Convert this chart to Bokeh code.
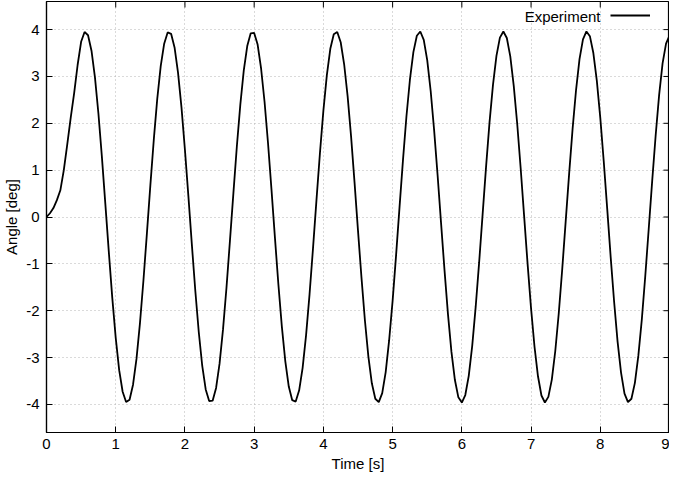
from bokeh.plotting import figure
from bokeh.models import (Range1d, FixedTicker, Legend, LegendItem,
                          Label, ColumnDataSource, PrintfTickFormatter)
from bokeh.embed import file_html
from bokeh.resources import INLINE

# ---- data ----
time_s = [
    0.00, 0.05, 0.10, 0.15, 0.20, 0.25, 0.30, 0.35, 0.40, 0.45,
    0.50, 0.55, 0.60, 0.65, 0.70, 0.75, 0.80, 0.85, 0.90, 0.95,
    1.00, 1.05, 1.10, 1.15, 1.20, 1.25, 1.30, 1.35, 1.40, 1.45,
    1.50, 1.55, 1.60, 1.65, 1.70, 1.75, 1.80, 1.85, 1.90, 1.95,
    2.00, 2.05, 2.10, 2.15, 2.20, 2.25, 2.30, 2.35, 2.40, 2.45,
    2.50, 2.55, 2.60, 2.65, 2.70, 2.75, 2.80, 2.85, 2.90, 2.95,
    3.00, 3.05, 3.10, 3.15, 3.20, 3.25, 3.30, 3.35, 3.40, 3.45,
    3.50, 3.55, 3.60, 3.65, 3.70, 3.75, 3.80, 3.85, 3.90, 3.95,
    4.00, 4.05, 4.10, 4.15, 4.20, 4.25, 4.30, 4.35, 4.40, 4.45,
    4.50, 4.55, 4.60, 4.65, 4.70, 4.75, 4.80, 4.85, 4.90, 4.95,
    5.00, 5.05, 5.10, 5.15, 5.20, 5.25, 5.30, 5.35, 5.40, 5.45,
    5.50, 5.55, 5.60, 5.65, 5.70, 5.75, 5.80, 5.85, 5.90, 5.95,
    6.00, 6.05, 6.10, 6.15, 6.20, 6.25, 6.30, 6.35, 6.40, 6.45,
    6.50, 6.55, 6.60, 6.65, 6.70, 6.75, 6.80, 6.85, 6.90, 6.95,
    7.00, 7.05, 7.10, 7.15, 7.20, 7.25, 7.30, 7.35, 7.40, 7.45,
    7.50, 7.55, 7.60, 7.65, 7.70, 7.75, 7.80, 7.85, 7.90, 7.95,
    8.00, 8.05, 8.10, 8.15, 8.20, 8.25, 8.30, 8.35, 8.40, 8.45,
    8.50, 8.55, 8.60, 8.65, 8.70, 8.75, 8.80, 8.85, 8.90, 8.95,
    9.00,
]

angle_deg = [
    0.00, 0.08, 0.19, 0.36, 0.57, 1.00, 1.55, 2.12, 2.65, 3.25,
    3.74, 3.95, 3.88, 3.55, 2.98, 2.21, 1.29, 0.28, -0.74, -1.72,
    -2.58, -3.27, -3.73, -3.95, -3.90, -3.58, -3.03, -2.27, -1.36, -0.36,
    0.67, 1.65, 2.52, 3.22, 3.70, 3.94, 3.91, 3.62, 3.08, 2.34,
    1.43, 0.44, -0.59, -1.58, -2.46, -3.18, -3.68, -3.93, -3.92, -3.65,
    -3.13, -2.40, -1.51, -0.51, 0.51, 1.51, 2.40, 3.13, 3.65, 3.92,
    3.93, 3.68, 3.17, 2.46, 1.58, 0.59, -0.44, -1.44, -2.34, -3.08,
    -3.62, -3.91, -3.94, -3.70, -3.22, -2.52, -1.65, -0.67, 0.36, 1.36,
    2.27, 3.03, 3.59, 3.90, 3.95, 3.73, 3.26, 2.58, 1.72, 0.74,
    -0.29, -1.29, -2.21, -2.98, -3.55, -3.88, -3.95, -3.76, -3.31, -2.63,
    -1.79, -0.82, 0.21, 1.22, 2.15, 2.93, 3.52, 3.87, 3.96, 3.78,
    3.35, 2.69, 1.85, 0.89, -0.13, -1.14, -2.08, -2.88, -3.48, -3.85,
    -3.96, -3.80, -3.39, -2.75, -1.92, -0.97, 0.05, 1.07, 2.02, 2.82,
    3.44, 3.83, 3.96, 3.82, 3.43, 2.80, 1.99, 1.04, 0.02, -1.00,
    -1.95, -2.77, -3.40, -3.81, -3.96, -3.84, -3.47, -2.86, -2.06, -1.12,
    -0.10, 0.92, 1.88, 2.71, 3.37, 3.79, 3.96, 3.86, 3.50, 2.91,
    2.12, 1.19, 0.18, -0.85, -1.81, -2.66, -3.32, -3.77, -3.95, -3.88,
    -3.54, -2.96, -2.19, -1.26, -0.25, 0.77, 1.74, 2.60, 3.28, 3.70,
    3.87,
]

x_ticks = [0, 1, 2, 3, 4, 5, 6, 7, 8, 9]
y_ticks = [-4, -3, -2, -1, 0, 1, 2, 3, 4]
x_title = "Time [s]"
y_title = "Angle [deg]"
series_name = "Experiment"

X_MIN, X_MAX = 0, 9
Y_MIN, Y_MAX = -4.6, 4.6

FONT = "Liberation Sans"
FSIZE = "15px"

p = figure(width=669, height=474, output_backend="svg", toolbar_location=None,
           x_range=Range1d(X_MIN, X_MAX), y_range=Range1d(Y_MIN, Y_MAX),
           x_axis_label=x_title, y_axis_label=y_title,
           min_border_left=41, min_border_right=0, min_border_top=1,
           min_border_bottom=0)
p.background_fill_color = "white"
p.border_fill_color = "white"
p.outline_line_color = "black"
p.outline_line_width = 1.2


def style_axis(ax, ticks):
    ax.ticker = FixedTicker(ticks=ticks)
    ax.formatter = PrintfTickFormatter(format="%d")
    ax.major_tick_in = 6
    ax.major_tick_out = 0
    ax.minor_tick_in = 0
    ax.minor_tick_out = 0
    ax.axis_line_color = "black"
    ax.axis_line_width = 1.2
    ax.major_tick_line_color = "black"
    ax.major_tick_line_width = 1
    ax.major_label_text_font = FONT
    ax.major_label_text_color = "black"
    ax.major_label_text_font_size = FSIZE
    ax.axis_label_text_font = FONT
    ax.axis_label_text_font_size = FSIZE
    ax.axis_label_text_font_style = "normal"
    ax.axis_label_text_color = "black"


style_axis(p.xaxis[0], x_ticks)
style_axis(p.yaxis[0], y_ticks)
p.xaxis[0].major_label_standoff = 6
p.xaxis[0].axis_label_standoff = 3
p.yaxis[0].major_label_standoff = 7
p.yaxis[0].axis_label_standoff = 3

p.xgrid.ticker = FixedTicker(ticks=x_ticks)
p.ygrid.ticker = FixedTicker(ticks=y_ticks)
p.grid.grid_line_color = "#b4b4b4"
p.grid.grid_line_dash = "1 3"
p.grid.grid_line_width = 1

# mirrored inward ticks on the top and right edges (gnuplot style)
tick_dx = 0.087   # ~6 px in x units
tick_dy = 0.128   # ~6 px in y units
p.segment(x0=x_ticks, y0=[Y_MAX] * len(x_ticks), x1=x_ticks,
          y1=[Y_MAX - tick_dy] * len(x_ticks), line_color="black", line_width=1)
p.segment(x0=[X_MAX] * len(y_ticks), y0=y_ticks, x1=[X_MAX - tick_dx] * len(y_ticks),
          y1=y_ticks, line_color="black", line_width=1)

src = ColumnDataSource(dict(t=time_s, a=angle_deg))
r = p.line(x="t", y="a", source=src, line_color="black", line_width=1.8)

legend = Legend(items=[LegendItem(label=" ", renderers=[r])],
                location="top_right", glyph_width=40, glyph_height=16,
                label_width=0, label_standoff=13, margin=4, padding=2,
                border_line_alpha=0, background_fill_alpha=0,
                label_text_font=FONT, label_text_font_size=FSIZE)
p.add_layout(legend)

lab = Label(x=X_MAX, y=Y_MAX, x_offset=-69, y_offset=-15, text=series_name,
            text_align="right", text_baseline="middle",
            text_font=FONT, text_font_size=FSIZE, text_color="black")
p.add_layout(lab)

open("out.html", "w").write(file_html(p, INLINE))
